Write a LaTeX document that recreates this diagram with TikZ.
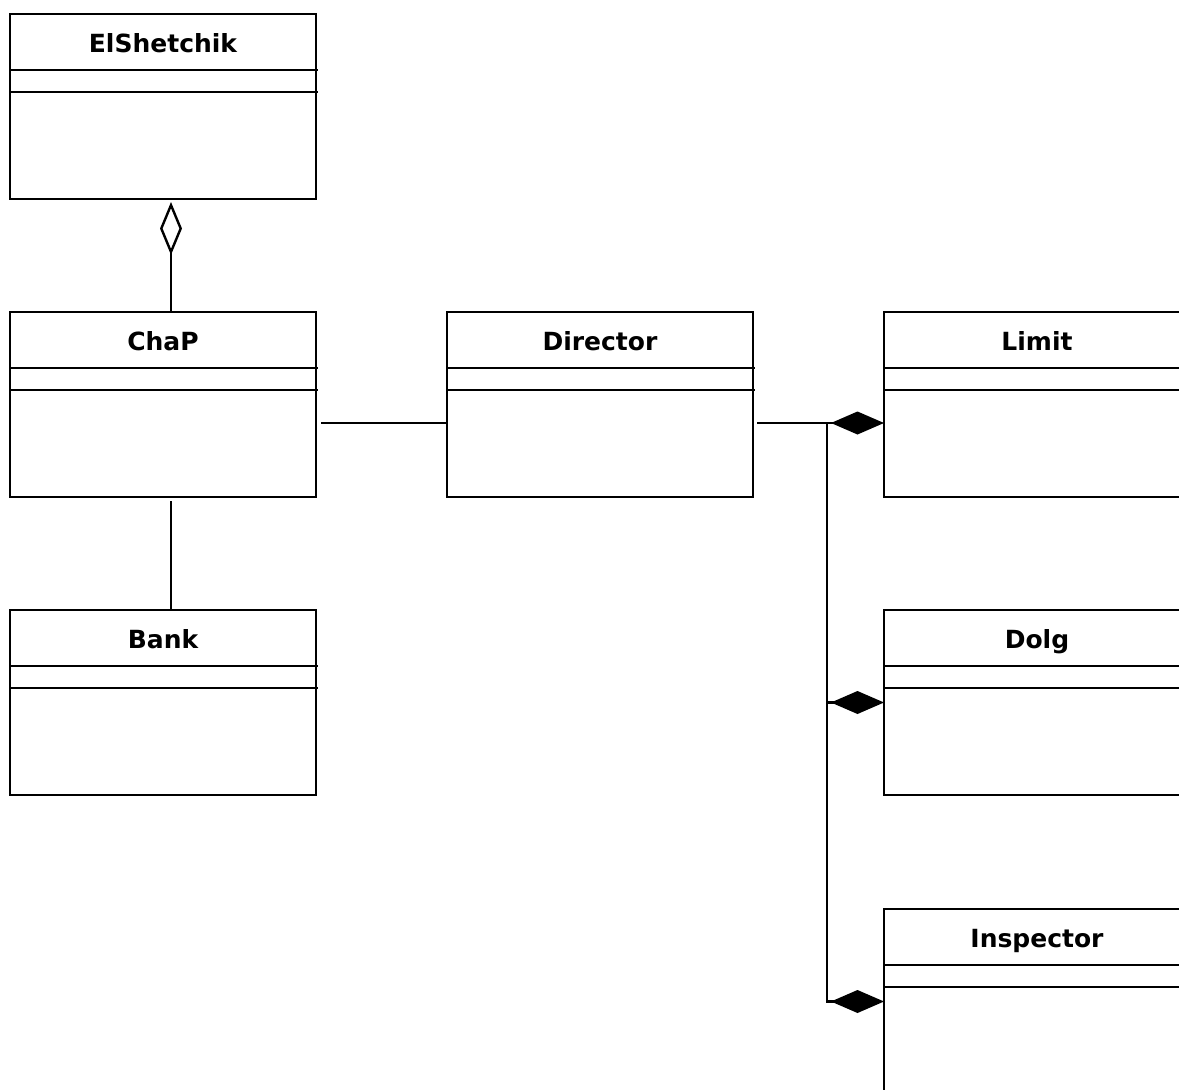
\documentclass[tikz,border=0pt]{standalone}
\usepackage{fontspec}
\setmainfont{DejaVu Sans}
\usetikzlibrary{arrows.meta,calc}

% A UML class box: name, left x, top y, class name
\newcommand\umlclass[4]{%
  \node[clsbox] (#1) at (#2,#3) {};
  \node[clstitle] (#1-name) at ($(#1.north)+(0,38)$) {#4};
  \draw[boxline] ($(#1.north west)+(0,56)$) -- ($(#1.north east)+(2,56)$);
  \draw[boxline] ($(#1.north west)+(0,78)$) -- ($(#1.north east)+(2,78)$);
}

\begin{document}
\begin{tikzpicture}[x=1pt,y=-1pt,
  boxline/.style={line width=2.4pt},
  clsbox/.style={draw, line width=2.4pt, minimum width=306pt, minimum height=185pt,
    inner sep=0pt, outer sep=0pt, anchor=north west},
  clstitle/.style={font=\bfseries\fontsize{25}{30}\selectfont, inner sep=0pt, anchor=base},
  conn/.style={line width=2.4pt},
  aggr/.style={-{Diamond[open,length=53pt,width=22pt]}},
  comp/.style={-{Diamond[length=53pt,width=23pt]}},
]
\useasboundingbox (0,0) rectangle (1179,1090);
\fill[white] (0,0) rectangle (1179,1090);
\clip (0,0) rectangle (1179,1090);

% classes
\umlclass{elsh}{10}{14}{ElShetchik}
\umlclass{chap}{10}{312}{ChaP}
\umlclass{bank}{10}{610}{Bank}
\umlclass{dir}{447}{312}{Director}
\umlclass{lim}{884}{312}{Limit}
\umlclass{dolg}{884}{610}{Dolg}
\umlclass{insp}{884}{909}{Inspector}

% aggregation ChaP -> ElShetchik
\draw[conn, aggr] ($(chap.north west)+(161,0)$) -- ($(elsh.south west)+(161,3)$);
% plain associations
\draw[conn] ($(chap.south west)+(161,4)$) -- ($(bank.north west)+(161,0)$);
\draw[conn] ($(chap.east)+(5,18.5)$) -- ($(dir.west)+(0,18.5)$);

% compositions from Director
\coordinate (fork) at ($(dir.east)+(74,18.5)$);
\draw[conn] ($(dir.east)+(4,18.5)$) -- (fork);
\draw[conn, comp] (fork) -- (fork -| lim.west);
\draw[conn, comp] (fork |- dolg.west) -- (dolg.west);
\draw[conn, comp] (fork) |- (insp.west);
\end{tikzpicture}
\end{document}
